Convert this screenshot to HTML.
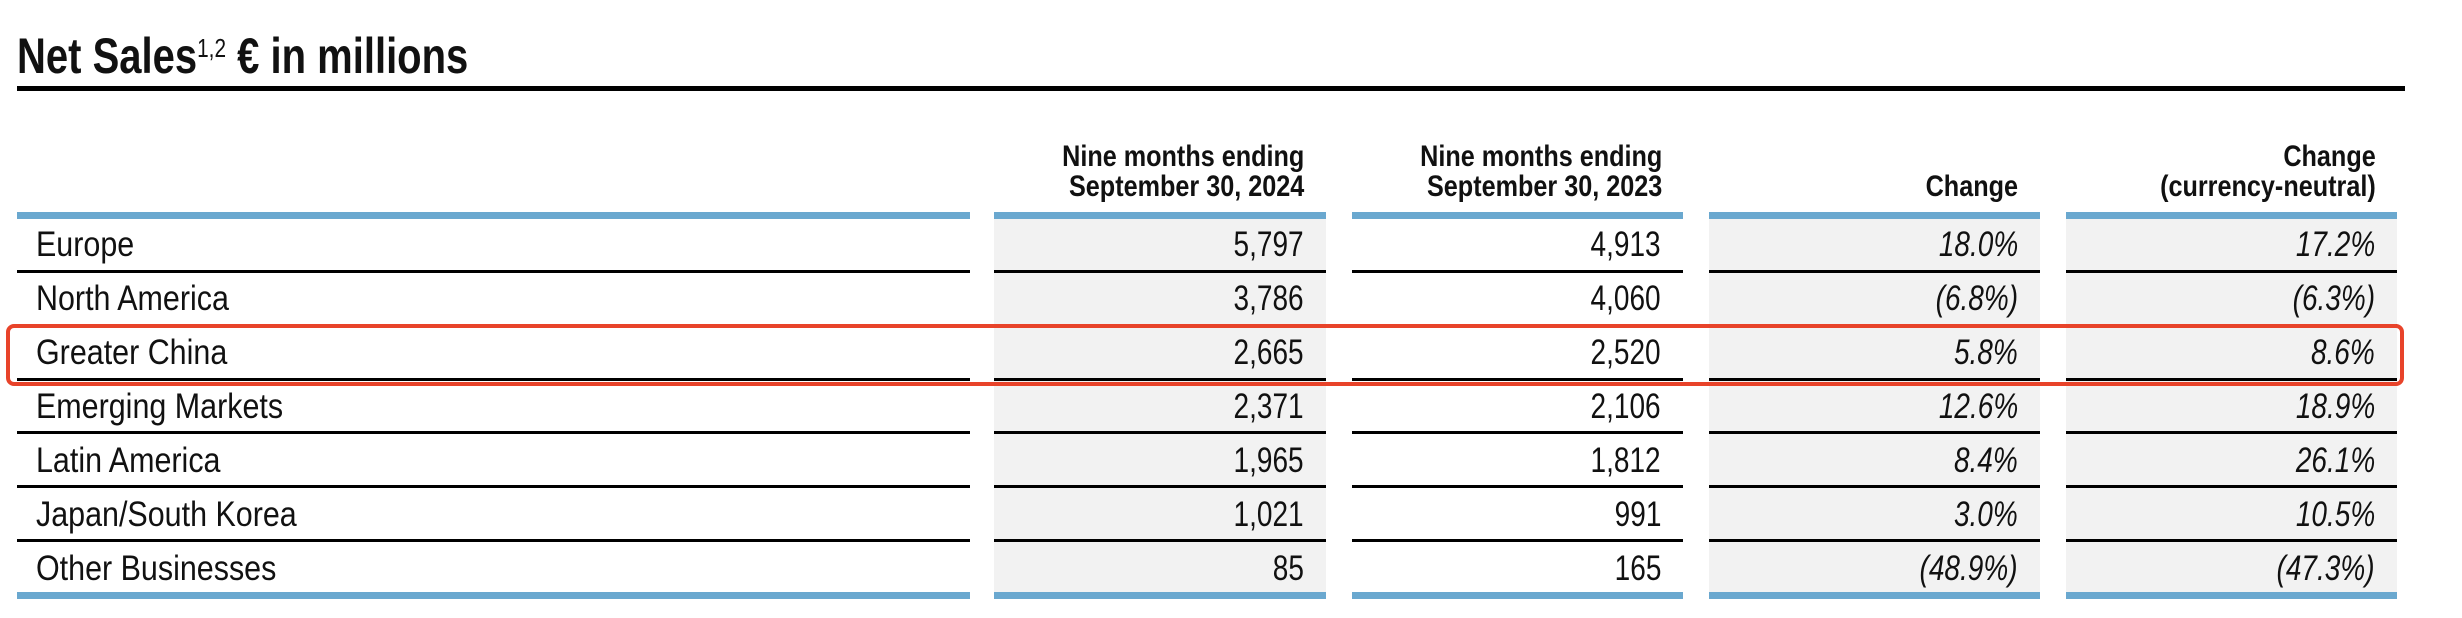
<!DOCTYPE html>
<html><head><meta charset="utf-8"><style>
body{margin:0;width:2462px;height:618px;background:#fff;position:relative;overflow:hidden;font-family:"Liberation Sans",sans-serif;color:#111}
.a{position:absolute}
.t{position:absolute;left:17px;top:30px;font-size:50px;font-weight:bold;line-height:52px;transform:scaleX(.8);transform-origin:left;white-space:nowrap}
.t sup{font-size:26px;font-weight:normal;vertical-align:top;position:relative;top:-8px}
.bar{position:absolute;left:17px;top:86px;width:2388px;height:5px;background:#000}
.col{position:absolute;top:212px;height:387px}
.g{background:#f2f2f2}
.blue{position:absolute;height:7px;background:#6aa8cf}
.sep{position:absolute;height:3px;background:#000}
.h{position:absolute;font-weight:bold;font-size:30px;line-height:30px;text-align:right;top:142px;white-space:nowrap}
.h span{display:inline-block;transform:scaleX(.84);transform-origin:right}
.c{position:absolute;font-size:35px;line-height:54px;white-space:nowrap}
.c span{display:inline-block;transform:scaleX(.87);transform-origin:left}
.r{text-align:right}
.r span{transform:scaleX(.8);transform-origin:right}
.i{font-style:italic}
</style></head><body>
<div class="t">Net Sales<sup>1,2</sup> € in millions</div>
<div class="bar"></div>

<div class="col g" style="left:994px;width:332px"></div>
<div class="col g" style="left:1709px;width:331px"></div>
<div class="col g" style="left:2066px;width:331px"></div>

<div class="h" style="left:994px;width:310px"><span>Nine months ending<br>September 30, 2024</span></div>
<div class="h" style="left:1352px;width:310px"><span>Nine months ending<br>September 30, 2023</span></div>
<div class="h" style="left:1709px;width:309px"><span>&nbsp;<br>Change</span></div>
<div class="h" style="left:2066px;width:310px"><span>Change<br>(currency-neutral)</span></div>

<div class="blue" style="left:17px;width:953px;top:212px"></div>
<div class="blue" style="left:994px;width:332px;top:212px"></div>
<div class="blue" style="left:1352px;width:331px;top:212px"></div>
<div class="blue" style="left:1709px;width:331px;top:212px"></div>
<div class="blue" style="left:2066px;width:331px;top:212px"></div>
<div class="blue" style="left:17px;width:953px;top:592px"></div>
<div class="blue" style="left:994px;width:332px;top:592px"></div>
<div class="blue" style="left:1352px;width:331px;top:592px"></div>
<div class="blue" style="left:1709px;width:331px;top:592px"></div>
<div class="blue" style="left:2066px;width:331px;top:592px"></div>

<div id="seps"></div>
<script>
var ys=[270,324,378,431,485,539];var xs=[[17,953],[994,332],[1352,331],[1709,331],[2066,331]];
var h='';ys.forEach(function(y){xs.forEach(function(x){h+='<div class="sep" style="left:'+x[0]+'px;width:'+x[1]+'px;top:'+y+'px"></div>';});});
var rows=[["Europe","5,797","4,913","18.0%","17.2%"],["North America","3,786","4,060","(6.8%)","(6.3%)"],["Greater China","2,665","2,520","5.8%","8.6%"],["Emerging Markets","2,371","2,106","12.6%","18.9%"],["Latin America","1,965","1,812","8.4%","26.1%"],["Japan/South Korea","1,021","991","3.0%","10.5%"],["Other Businesses","85","165","(48.9%)","(47.3%)"]];
rows.forEach(function(r,i){var t=219+i*54-1;
h+='<div class="c" style="left:36px;top:'+t+'px"><span>'+r[0]+'</span></div>';
h+='<div class="c r" style="left:994px;width:310px;top:'+t+'px"><span>'+r[1]+'</span></div>';
h+='<div class="c r" style="left:1352px;width:309px;top:'+t+'px"><span>'+r[2]+'</span></div>';
h+='<div class="c r i" style="left:1709px;width:309px;top:'+t+'px"><span>'+r[3]+'</span></div>';
h+='<div class="c r i" style="left:2066px;width:309px;top:'+t+'px"><span>'+r[4]+'</span></div>';});
document.getElementById('seps').innerHTML=h;
</script>
<div class="a" style="left:6px;top:324px;width:2390px;height:54px;border:4px solid #e8432a;border-radius:8px"></div>
</body></html>
